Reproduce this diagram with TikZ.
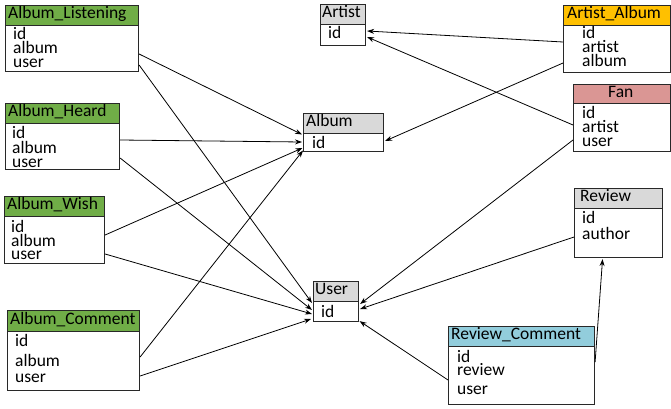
\documentclass[tikz,border=0pt]{standalone}
\usepackage{fontspec}
\setmainfont{Carlito}
\usetikzlibrary{arrows.meta,calc}
\definecolor{hgreen}{RGB}{112,173,71}
\definecolor{horange}{RGB}{255,192,0}
\definecolor{hpink}{RGB}{218,150,148}
\definecolor{hblue}{RGB}{146,205,220}
\definecolor{hgray}{RGB}{217,217,217}
\definecolor{bline}{RGB}{40,40,40}
\newcommand\mktable[9]{%
  \node[hdrbox, fill=#7, minimum width=#4pt, minimum height=#5pt] (#1-h) at (#2,#3) {};
  \node[bodybox, minimum width=#4pt, minimum height=#6pt] (#1) at (#2,#3+#5) {};
  \node[ttl] (#1-t) at ($(#1-h.west)+(#9pt,0)$) {#8};
}
\tikzset{
  hdrbox/.style={draw=bline, line width=1.1pt, anchor=north west, inner sep=0pt},
  bodybox/.style={draw=bline, line width=1.1pt, fill=white, anchor=north west, inner sep=0pt},
  ttl/.style={anchor=mid west, inner sep=0pt, font=\fontsize{17.5}{20}\selectfont, yshift=-1pt},
  fld/.style={anchor=base west, inner sep=0pt, font=\fontsize{17.5}{20}\selectfont},
  conn/.style={draw=black, line width=0.8pt, -{Stealth[length=7pt,width=5pt]}}
}
\begin{document}
\begin{tikzpicture}[x=1pt,y=-1pt]
\useasboundingbox (0,0) rectangle (671,409);
% tables
\mktable{al}{5}{5}{133}{20}{46}{hgreen}{Album\_Listening}{3}
\node[fld] (al1) at (13,40) {id};
\node[fld] (al2) at (13,54) {album};
\node[fld] (al3) at (13,68) {user};

\mktable{ah}{5}{103}{114}{20}{46}{hgreen}{Album\_Heard}{3}
\node[fld] (ah1) at (12,138) {id};
\node[fld] (ah2) at (12,153) {album};
\node[fld] (ah3) at (12,167) {user};

\mktable{aw}{4}{196}{100}{20}{47}{hgreen}{Album\_Wish}{3}
\node[fld] (aw1) at (11,232) {id};
\node[fld] (aw2) at (11,246) {album};
\node[fld] (aw3) at (11,259) {user};

\mktable{ac}{7}{310}{132}{21}{59}{hgreen}{Album\_Comment}{3}
\node[fld] (ac1) at (15,346) {id};
\node[fld] (ac2) at (15,366) {album};
\node[fld] (ac3) at (15,382) {user};

\mktable{ar}{320}{4}{45}{20}{21}{hgray}{Artist}{2}
\node[fld] (ar1) at (328,39) {id};

\mktable{ab}{303}{113}{80}{20}{18}{hgray}{Album}{3}
\node[fld] (ab1) at (312,148) {id};

\mktable{us}{313}{281}{45}{20}{20}{hgray}{User}{2}
\node[fld] (us1) at (321,317) {id};

\mktable{aa}{563}{5}{107}{20}{47}{horange}{Artist\_Album}{4}
\node[fld] (aa1) at (582,39) {id};
\node[fld] (aa2) at (582,53) {artist};
\node[fld] (aa3) at (582,67) {album};

\mktable{fa}{573}{84}{97}{19}{48}{hpink}{Fan}{35}
\node[fld] (fa1) at (582,118) {id};
\node[fld] (fa2) at (582,132) {artist};
\node[fld] (fa3) at (582,146) {user};

\mktable{rv}{574}{188}{88}{20}{49}{hgray}{Review}{6}
\node[fld] (rv1) at (582,223) {id};
\node[fld] (rv2) at (582,239) {author};

\mktable{rc}{448}{326}{146}{20}{58}{hblue}{Review\_Comment}{3}
\node[fld] (rc1) at (457,362) {id};
\node[fld] (rc2) at (457,375) {review};
\node[fld] (rc3) at (457,394) {user};

% connectors to Album
\draw[conn] ([yshift=-29pt]al.north east) -- ([xshift=-1pt,yshift=-1.5pt]ab.north west);
\draw[conn] ([yshift=-17pt]ah.north east) -- ([xshift=-1pt,yshift=-9pt]ab.north west);
\draw[conn] ([yshift=-19pt]aw.north east) -- ([xshift=-0.5pt,yshift=-15pt]ab.north west);
\draw[conn] ([yshift=-26pt]ac.north east) -- ([yshift=-17.5pt]ab.north west);
\draw[conn] ([yshift=-38pt]aa.north west) -- ([xshift=1pt,yshift=-8pt]ab.north east);
% connectors to User
\draw[conn] ([yshift=-40pt]al.north east) -- ([xshift=-1pt,yshift=-2pt]us.north west);
\draw[conn] ([yshift=-35pt]ah.north east) -- ([xshift=-1pt,yshift=-9pt]us.north west);
\draw[conn] ([yshift=-38pt]aw.north east) -- ([xshift=-1pt,yshift=-13pt]us.north west);
\draw[conn] ([yshift=-45pt]ac.north east) -- ([xshift=-2pt,yshift=-18pt]us.north west);
\draw[conn] ([yshift=-37pt]fa.north west) -- ([xshift=1pt,yshift=-3pt]us.north east);
\draw[conn] ([yshift=-29pt]rv.north west) -- ([xshift=1pt,yshift=-8pt]us.north east);
\draw[conn] ([yshift=-34pt]rc.north west) -- ([xshift=0.5pt,yshift=1pt]us.south east);
% connectors to Artist
\draw[conn] ([yshift=-17pt]aa.north west) -- ([xshift=1pt,yshift=-7pt]ar.north east);
\draw[conn] ([yshift=-22pt]fa.north west) -- ([xshift=1pt,yshift=-13pt]ar.north east);
% Review_Comment to Review
\draw[conn] ([yshift=-16pt]rc.north east) -- ([xshift=-16pt,yshift=-1pt]rv.south);
\end{tikzpicture}
\end{document}
